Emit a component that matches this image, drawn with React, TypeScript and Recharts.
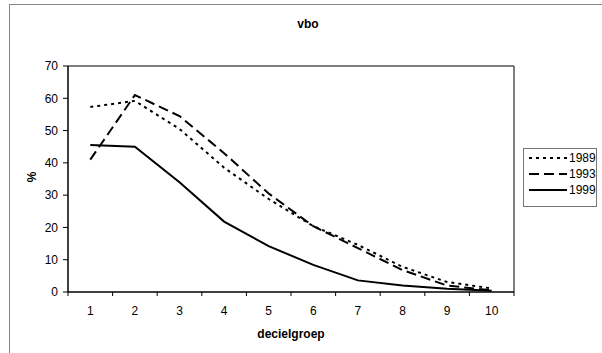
import React from "react";
import {
  LineChart,
  Line,
  XAxis,
  YAxis,
  ReferenceArea,
} from "recharts";

const groups = [1, 2, 3, 4, 5, 6, 7, 8, 9, 10];
const vals1989 = [57.3, 59.2, 50.5, 38.5, 28.8, 20.4, 14.6, 7.8, 3.1, 1.1];
const vals1993 = [41, 61, 54.5, 43, 30.5, 20.4, 13.6, 6.8, 2.0, 0.5];
const vals1999 = [45.5, 45, 34, 21.8, 14.2, 8.4, 3.6, 2.0, 1.0, 0.4];
const yTicks = [0, 10, 20, 30, 40, 50, 60, 70];

const series = [
  { key: "y1989", name: "1989", dash: "3 4" },
  { key: "y1993", name: "1993", dash: "10 5" },
  { key: "y1999", name: "1999", dash: undefined },
];

const data = groups.map((g, i) => ({
  group: g,
  y1989: vals1989[i],
  y1993: vals1993[i],
  y1999: vals1999[i],
}));

// tick marks sit between the groups, labels on the groups
const xTicks = [0.5, ...groups.flatMap((g) => [g, g + 0.5])];

const FONT = "'Liberation Sans', Arial, sans-serif";

function XTick(props: any) {
  const { x, y, payload } = props;
  const v = payload.value;
  if (Number.isInteger(v)) {
    return (
      <text x={x} y={y + 19} textAnchor="middle" fontSize={12} fill="#000" fontFamily={FONT}>
        {v}
      </text>
    );
  }
  return <line x1={x} x2={x} y1={y - 4} y2={y} stroke="#000" strokeWidth={1} />;
}

function PercentLabel(props: any) {
  const { viewBox } = props;
  const cx = viewBox.x + 4;
  const cy = viewBox.y + viewBox.height / 2 - 2;
  return (
    <text
      x={cx}
      y={cy}
      transform={`rotate(-90 ${cx} ${cy})`}
      textAnchor="middle"
      dominantBaseline="central"
      fontFamily={FONT}
      fontWeight="bold"
      fontSize={12}
      fill="#000"
    >
      %
    </text>
  );
}

function LegendBox() {
  return (
    <div
      style={{
        position: "absolute",
        left: 523,
        top: 148,
        width: 72,
        height: 57,
        border: "1px solid #777",
        background: "#fff",
      }}
    >
      {series.map((s, i) => (
        <div key={s.key} style={{ display: "flex", alignItems: "center", height: 16, marginTop: i === 0 ? 1 : 0 }}>
          <svg width={40} height={8} style={{ marginLeft: 5 }}>
            <line x1={0} x2={38} y1={4} y2={4} stroke="#000" strokeWidth={2} strokeDasharray={s.dash} />
          </svg>
          <span style={{ fontFamily: FONT, fontSize: 12, color: "#000" }}>{s.name}</span>
        </div>
      ))}
    </div>
  );
}

export default function App() {
  return (
    <div
      style={{
        position: "absolute",
        left: 0,
        top: 0,
        width: 602,
        height: 353,
        overflow: "hidden",
        background: "#fff",
      }}
    >
      <div
        style={{
          position: "absolute",
          left: 9,
          top: 4,
          width: 600,
          height: 400,
          border: "1px solid #888",
        }}
      />
      <div
        style={{
          position: "absolute",
          left: 0,
          top: 17,
          width: 602,
          textAlign: "center",
          fontFamily: FONT,
          fontWeight: "bold",
          fontSize: 12,
          paddingLeft: 14,
          boxSizing: "border-box",
        }}
      >
        vbo
      </div>
      <div style={{ position: "absolute", left: 0, top: 0 }}>
        <LineChart
          width={602}
          height={353}
          data={data}
          margin={{ top: 66, right: 88, bottom: 11, left: 28 }}
        >
          <XAxis
            type="number"
            dataKey="group"
            domain={[0.5, 10.5]}
            ticks={xTicks}
            interval={0}
            tickLine={false}
            tickSize={4}
            tickMargin={0}
            tick={<XTick />}
            axisLine={{ stroke: "#000" }}
            height={50}
            label={{
              value: "decielgroep",
              position: "insideBottom",
              offset: 4,
              fontFamily: FONT,
              fontWeight: "bold",
              fontSize: 12,
              fill: "#000",
            }}
          />
          <YAxis
            domain={[0, 70]}
            ticks={yTicks}
            interval={0}
            width={40}
            tickSize={5}
            tickMargin={5}
            tickLine={{ stroke: "#000" }}
            axisLine={{ stroke: "#000" }}
            tick={{ fontFamily: FONT, fontSize: 12, fill: "#000" }}
            label={<PercentLabel />}
          />
          <ReferenceArea
            x1={0.5}
            x2={10.5}
            y1={0}
            y2={70}
            fill="none"
            stroke="#000"
            strokeWidth={1}
            ifOverflow="visible"
          />
          {series.map((s) => (
            <Line
              key={s.key}
              type="linear"
              dataKey={s.key}
              name={s.name}
              stroke="#000"
              strokeWidth={2}
              strokeDasharray={s.dash}
              dot={false}
              activeDot={false}
              isAnimationActive={false}
            />
          ))}
        </LineChart>
      </div>
      <LegendBox />
    </div>
  );
}
